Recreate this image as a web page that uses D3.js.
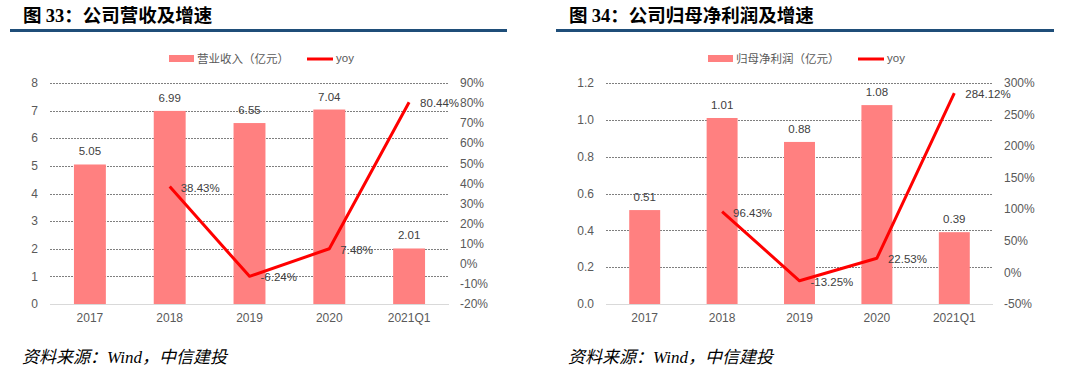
<!DOCTYPE html>
<html>
<head>
<meta charset="utf-8">
<script src="https://cdn.jsdelivr.net/npm/d3@7"></script>
<style>
  body { margin: 0; background: #fff; }
  svg { display: block; }
</style>
</head>
<body>
<svg id="chart"></svg>
<script>
const width = 1080;
const height = 369;

const categories = ["2017", "2018", "2019", "2020", "2021Q1"];
const revenue = [5.05, 6.99, 6.55, 7.04, 2.01];
const revenueYoy = [null, 38.43, -6.24, 7.48, 80.44];
const profit = [0.51, 1.01, 0.88, 1.08, 0.39];
const profitYoy = [null, 96.43, -13.25, 22.53, 284.12];

const revenueTicks = [0, 1, 2, 3, 4, 5, 6, 7, 8];
const revenueYoyTicks = [-20, -10, 0, 10, 20, 30, 40, 50, 60, 70, 80, 90];
const profitTicks = [0, 0.2, 0.4, 0.6, 0.8, 1.0, 1.2];
const profitYoyTicks = [-50, 0, 50, 100, 150, 200, 250, 300];

const barColor = "#ff8080";
const lineColor = "#ff0000";
const textColor = "#595959";
const sansFont = "Arial, 'Liberation Sans', 'Noto Sans CJK SC', sans-serif";

let svg = d3.select("#chart")
  .attr("width", width)
  .attr("height", height);

svg.append("rect")
  .attr("width", width)
  .attr("height", height)
  .attr("fill", "#fff");

// one panel: title, rule, legend, bars + yoy line, footer
const drawPanel = function drawPanel(opt) {
  let g = svg.append("g");

  // title
  let title = g.append("text")
    .attr("x", opt.left + 13)
    .attr("y", 21.5)
    .attr("font-size", 18.5)
    .attr("font-weight", "bold")
    .attr("fill", "#000");
  title.append("tspan")
    .attr("font-family", "'Noto Sans CJK SC', sans-serif")
    .text("图 ");
  title.append("tspan")
    .attr("font-family", "'Liberation Serif', 'Times New Roman', serif")
    .text(opt.num);
  title.append("tspan")
    .attr("font-family", "'Noto Sans CJK SC', sans-serif")
    .text("：" + opt.title);

  g.append("line")
    .attr("x1", opt.left)
    .attr("x2", opt.right)
    .attr("y1", 30.5)
    .attr("y2", 30.5)
    .attr("stroke", "#1f4e79")
    .attr("stroke-width", 3);

  // legend
  g.append("rect")
    .attr("x", opt.legendX)
    .attr("y", 55)
    .attr("width", 25)
    .attr("height", 7)
    .attr("fill", barColor);
  g.append("text")
    .attr("x", opt.legendX + 28)
    .attr("y", 63)
    .attr("font-size", 11.5)
    .attr("font-family", sansFont)
    .attr("fill", textColor)
    .text(opt.legend);
  g.append("line")
    .attr("x1", opt.legendLineX)
    .attr("x2", opt.legendLineX + 26)
    .attr("y1", 59)
    .attr("y2", 59)
    .attr("stroke", lineColor)
    .attr("stroke-width", 3);
  g.append("text")
    .attr("x", opt.legendLineX + 29)
    .attr("y", 62)
    .attr("font-size", 11.5)
    .attr("font-family", sansFont)
    .attr("fill", textColor)
    .text("yoy");

  // scales
  let x = d3.scaleBand()
    .domain(categories)
    .range([opt.plotLeft, opt.plotRight])
    .paddingInner(0.6)
    .paddingOuter(0.3);
  let y = d3.scaleLinear()
    .domain(d3.extent(opt.ticks))
    .range([304, 83]);
  let y2 = d3.scaleLinear()
    .domain(d3.extent(opt.yoyTicks))
    .range([304, 83]);

  // gridlines
  g.append("g")
    .selectAll("line")
    .data(opt.ticks.slice(1))
    .join("line")
    .attr("x1", opt.plotLeft)
    .attr("x2", opt.plotRight)
    .attr("y1", d => Math.round(y(d)) + 0.5)
    .attr("y2", d => Math.round(y(d)) + 0.5)
    .attr("stroke", "#7f7f7f")
    .attr("stroke-dasharray", "2,1");
  g.append("line")
    .attr("x1", opt.plotLeft)
    .attr("x2", opt.plotRight)
    .attr("y1", 304.5)
    .attr("y2", 304.5)
    .attr("stroke", "#d9d9d9");

  // left axis labels
  g.append("g")
    .selectAll("text")
    .data(opt.ticks)
    .join("text")
    .attr("x", opt.plotLeft - 12)
    .attr("y", d => y(d))
    .attr("dy", "0.35em")
    .attr("text-anchor", "end")
    .attr("font-size", 12)
    .attr("font-family", sansFont)
    .attr("fill", textColor)
    .text(opt.tickFormat);

  // right axis labels
  g.append("g")
    .selectAll("text")
    .data(opt.yoyTicks)
    .join("text")
    .attr("x", opt.plotRight + 11)
    .attr("y", d => y2(d))
    .attr("dy", "0.35em")
    .attr("font-size", 12)
    .attr("font-family", sansFont)
    .attr("fill", textColor)
    .text(d => d + "%");

  // category labels
  g.append("g")
    .selectAll("text")
    .data(categories)
    .join("text")
    .attr("x", d => x(d) + x.bandwidth() / 2)
    .attr("y", 322)
    .attr("text-anchor", "middle")
    .attr("font-size", 12)
    .attr("font-family", sansFont)
    .attr("fill", textColor)
    .text(d => d);

  // bars
  g.append("g")
    .selectAll("rect")
    .data(opt.values)
    .join("rect")
    .attr("x", (d, i) => x(categories[i]))
    .attr("y", d => y(d))
    .attr("width", x.bandwidth())
    .attr("height", d => 304 - y(d))
    .attr("fill", barColor);

  g.append("g")
    .selectAll("text")
    .data(opt.values)
    .join("text")
    .attr("x", (d, i) => x(categories[i]) + x.bandwidth() / 2)
    .attr("y", d => y(d) - 9)
    .attr("text-anchor", "middle")
    .attr("font-size", 11.5)
    .attr("font-family", sansFont)
    .attr("fill", "#404040")
    .text(d => opt.valueFormat(d));

  // yoy line
  let pts = opt.yoy
    .map((d, i) => ({ v: d, c: categories[i] }))
    .filter(d => d.v != null);

  let line = d3.line()
    .x(d => x(d.c) + x.bandwidth() / 2)
    .y(d => y2(d.v));

  g.append("path")
    .attr("d", line(pts))
    .attr("fill", "none")
    .attr("stroke", lineColor)
    .attr("stroke-width", 3)
    .attr("stroke-linejoin", "round");

  g.append("g")
    .selectAll("text")
    .data(pts)
    .join("text")
    .attr("x", d => x(d.c) + x.bandwidth() / 2 + 11)
    .attr("y", d => y2(d.v) + 1)
    .attr("dy", "0.35em")
    .attr("font-size", 11.5)
    .attr("font-family", sansFont)
    .attr("fill", "#404040")
    .text(d => d.v.toFixed(2) + "%");

  // footer
  g.append("text")
    .attr("x", opt.left + 12)
    .attr("y", 363)
    .attr("font-size", 17)
    .attr("font-style", "italic")
    .attr("font-family", "'Liberation Serif', 'Noto Sans CJK SC', serif")
    .attr("fill", "#000")
    .text("资料来源：Wind，中信建投");
};

drawPanel({
  left: 10, right: 507,
  num: "33", title: "公司营收及增速",
  legend: "营业收入（亿元）", legendX: 169, legendLineX: 307,
  plotLeft: 50, plotRight: 449,
  ticks: revenueTicks, yoyTicks: revenueYoyTicks,
  tickFormat: d => d,
  valueFormat: d => d.toFixed(2),
  values: revenue, yoy: revenueYoy
});

drawPanel({
  left: 556, right: 1054,
  num: "34", title: "公司归母净利润及增速",
  legend: "归母净利润（亿元）", legendX: 708, legendLineX: 858,
  plotLeft: 606, plotRight: 993,
  ticks: profitTicks, yoyTicks: profitYoyTicks,
  tickFormat: d => d.toFixed(1),
  valueFormat: d => d.toFixed(2),
  values: profit, yoy: profitYoy
});
</script>
</body>
</html>
